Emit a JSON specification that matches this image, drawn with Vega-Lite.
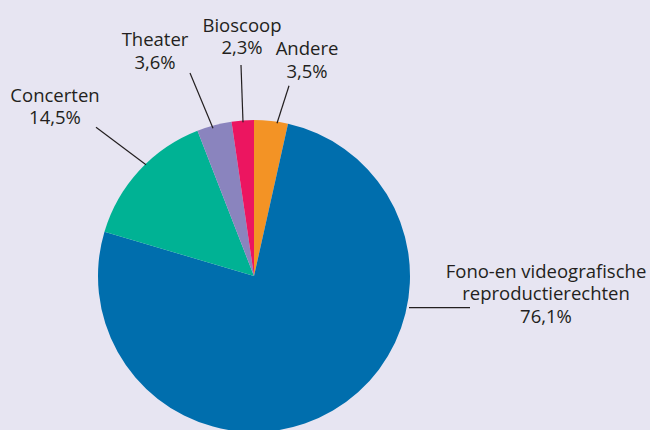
{
  "$schema": "https://vega.github.io/schema/vega-lite/v6.json",
  "width": 650,
  "height": 430,
  "autosize": {"type": "fit", "contains": "padding"},
  "padding": 0,
  "background": "#E7E5F2",
  "config": {"view": {"stroke": null}, "font": "Open Sans"},
  "data": {
    "values": [
      {"idx": 1, "cat": "Andere", "pct": 3.5, "label": ["Andere", "3,5%"], "lx": 53, "ly": -224, "ax": 35, "ay": -193, "bx": 23, "by": -155},
      {"idx": 2, "cat": "Fono-en videografische reproductierechten", "pct": 76.1, "label": ["Fono-en videografische", "reproductierechten", "76,1%"], "lx": 292, "ly": 2, "ax": 155, "ay": 32, "bx": 216, "by": 32},
      {"idx": 3, "cat": "Concerten", "pct": 14.5, "label": ["Concerten", "14,5%"], "lx": -199, "ly": -177, "ax": -158, "ay": -151, "bx": -108, "by": -113},
      {"idx": 4, "cat": "Theater", "pct": 3.6, "label": ["Theater", "3,6%"], "lx": -99, "ly": -233, "ax": -64, "ay": -206, "bx": -41, "by": -150},
      {"idx": 5, "cat": "Bioscoop", "pct": 2.3, "label": ["Bioscoop", "2,3%"], "lx": -12, "ly": -248, "ax": -13, "ay": -214, "bx": -11, "by": -156}
    ]
  },
  "layer": [
    {
      "mark": {"type": "arc", "radius": 156},
      "encoding": {
        "theta": {"field": "pct", "type": "quantitative", "stack": true},
        "order": {"field": "idx", "type": "quantitative"},
        "color": {
          "field": "cat",
          "type": "nominal",
          "scale": {
            "domain": ["Andere", "Fono-en videografische reproductierechten", "Concerten", "Theater", "Bioscoop"],
            "range": ["#F39325", "#006EAD", "#00B294", "#8A84BE", "#EC1560"]
          },
          "legend": null
        },
        "x": {"datum": 0, "type": "quantitative", "scale": {"domain": [-254, 396], "nice": false, "zero": false}, "axis": null},
        "y": {"datum": 0, "type": "quantitative", "scale": {"domain": [-280, 150], "nice": false, "zero": false, "reverse": true}, "axis": null}
      }
    },
    {
      "mark": {"type": "rule", "color": "#231F20", "strokeWidth": 1.2},
      "encoding": {
        "x": {"field": "ax", "type": "quantitative"},
        "y": {"field": "ay", "type": "quantitative"},
        "x2": {"field": "bx"},
        "y2": {"field": "by"}
      }
    },
    {
      "mark": {"type": "text", "fontSize": 18.5, "lineHeight": 22.3, "align": "center", "baseline": "alphabetic", "color": "#231F20"},
      "encoding": {
        "x": {"field": "lx", "type": "quantitative"},
        "y": {"field": "ly", "type": "quantitative"},
        "text": {"field": "label"}
      }
    }
  ]
}
